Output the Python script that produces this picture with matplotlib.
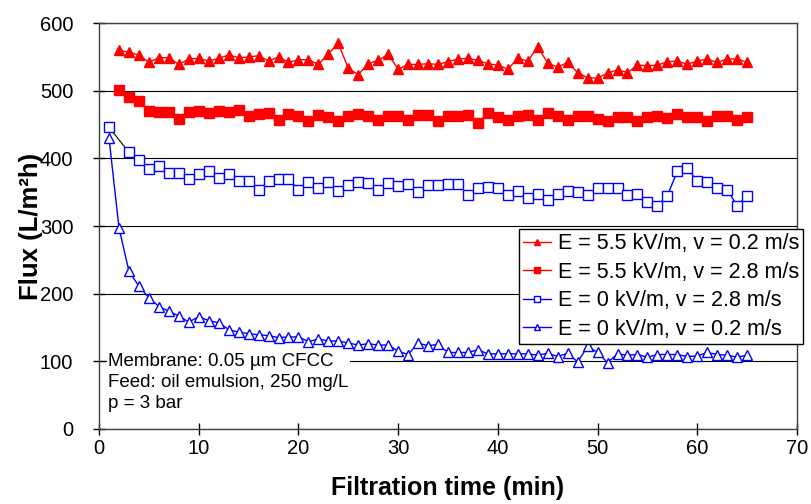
import matplotlib
matplotlib.use("Agg")
import matplotlib.pyplot as plt
import numpy as np

plt.rcParams['font.family'] = ['Liberation Sans', 'DejaVu Sans']

# Tempo de filtracao (min)
t_red = np.arange(2, 66)
t_sq = np.concatenate(([1], np.arange(3, 66)))
t_tri = np.arange(1, 66)

# E = 5.5 kV/m, v = 0.2 m/s
flux_e55_v02 = [560, 557, 553, 542, 549, 549, 539, 547, 548, 544, 548, 553, 549, 550,
                552, 544, 550, 542, 546, 546, 539, 555, 570, 533, 524, 540, 545, 554,
                532, 539, 539, 540, 539, 543, 547, 548, 545, 540, 538, 532, 548, 544,
                565, 541, 535, 542, 527, 519, 519, 526, 531, 527, 538, 537, 538, 543,
                544, 539, 544, 547, 542, 547, 547, 542]

# E = 5.5 kV/m, v = 2.8 m/s
flux_e55_v28 = [501, 491, 485, 470, 469, 468, 459, 468, 470, 467, 470, 469, 471, 463,
                466, 467, 457, 465, 462, 455, 464, 461, 456, 463, 465, 463, 457, 463,
                463, 457, 464, 464, 456, 462, 462, 464, 453, 467, 461, 457, 463, 464,
                457, 467, 462, 457, 462, 462, 459, 456, 461, 461, 456, 461, 463, 460,
                465, 461, 461, 455, 462, 462, 457, 461]

# E = 0 kV/m, v = 2.8 m/s (sem ponto em t = 2)
flux_e0_v28 = [446, 409, 398, 385, 389, 379, 379, 369, 377, 381, 371, 377, 366, 366,
               354, 366, 370, 369, 354, 365, 357, 365, 352, 361, 365, 364, 353, 364,
               359, 362, 351, 361, 360, 362, 362, 346, 356, 358, 357, 346, 352, 342,
               347, 339, 348, 352, 351, 346, 357, 357, 356, 346, 347, 336, 330, 345,
               381, 386, 366, 365, 357, 354, 330, 345]

# E = 0 kV/m, v = 0.2 m/s
flux_e0_v02 = [430, 297, 233, 211, 194, 181, 174, 167, 158, 166, 160, 157, 147, 143,
               141, 139, 138, 135, 136, 136, 129, 133, 130, 130, 127, 124, 126, 124,
               124, 115, 110, 127, 123, 125, 113, 113, 113, 117, 111, 111, 111, 111,
               111, 109, 112, 107, 112, 99, 122, 113, 98, 111, 109, 110, 106, 110,
               110, 110, 107, 108, 113, 110, 109, 106, 109]

labels = ['E = 5.5 kV/m, v = 0.2 m/s', 'E = 5.5 kV/m, v = 2.8 m/s',
          'E = 0 kV/m, v = 2.8 m/s', 'E = 0 kV/m, v = 0.2 m/s']

red = '#FF0000'
blue = '#0000FF'

fig = plt.figure(figsize=(8.12, 5.04), dpi=100)
ax = fig.add_axes([0.122, 0.149, 0.8595, 0.805])

ax.plot(t_red, flux_e55_v02, color=red, lw=1, marker='^', ms=6.5, mec=red, mfc=red,
        label=labels[0], zorder=5)
ax.plot(t_red, flux_e55_v28, color=red, lw=1, marker='s', ms=6.5, mec=red, mfc=red,
        label=labels[1], zorder=5)
# primeiro trecho em preto (t = 1 -> 3)
ax.plot(t_sq[:2], flux_e0_v28[:2], color='black', lw=0.8, zorder=4)
ax.plot(t_sq[1:], flux_e0_v28[1:], color=blue, lw=1, marker='s', ms=6.5, mec=blue,
        mfc='white', mew=1, label=labels[2], zorder=5)
ax.plot(t_sq[:1], flux_e0_v28[:1], ls='none', marker='s', ms=6.5, mec=blue,
        mfc='white', mew=1, zorder=5)
ax.plot(t_tri, flux_e0_v02, color=blue, lw=1, marker='^', ms=7, mec=blue,
        mfc='white', mew=1, label=labels[3], zorder=5)

ax.set_xlim(0, 70)
ax.set_ylim(0, 600)
ax.set_xticks(np.arange(0, 71, 10))
ax.set_yticks(np.arange(0, 601, 100))
ax.yaxis.grid(True, color='black', lw=0.8)
ax.set_axisbelow(True)
ax.tick_params(direction='inout', length=9, width=1, labelsize=14.5, colors='black')
ax.tick_params(axis='x', pad=3)
ax.tick_params(axis='y', pad=14)
for s in ax.spines.values():
    s.set_linewidth(1)
    s.set_color('#404040')

ax.set_xlabel('Filtration time (min)', fontsize=18, fontweight='bold', labelpad=13)
ax.set_ylabel('Flux (L/m²h)', fontsize=18.5, fontweight='bold', labelpad=-2)

ax.text(0.9, 112, 'Membrane: 0.05 µm CFCC\nFeed: oil emulsion, 250 mg/L\np = 3 bar',
        fontsize=13.5, va='top', ha='left', linespacing=1.3, zorder=3,
        bbox=dict(facecolor='white', edgecolor='none', pad=1))

leg = ax.legend(loc='upper left', bbox_to_anchor=(0.6016, 0.493), fontsize=15.5,
                frameon=True, fancybox=False, edgecolor='black', framealpha=1,
                handlelength=1.3, handletextpad=0.3, borderpad=0.2,
                labelspacing=0.35, markerscale=0.7, borderaxespad=0)
leg.get_frame().set_linewidth(1)
leg.set_zorder(10)

fig.savefig('out.png', dpi=100)
